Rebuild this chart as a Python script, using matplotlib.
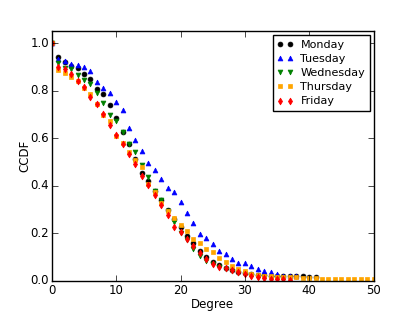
import numpy as np
import matplotlib
matplotlib.use("Agg")
import matplotlib.pyplot as plt

plt.style.use("classic")
plt.rcParams["font.size"] = 8.5

monday = [1.0, 0.940, 0.920, 0.905, 0.895, 0.870, 0.849, 0.808, 0.784, 0.740,
          0.686, 0.625, 0.574, 0.512, 0.454, 0.418, 0.379, 0.338, 0.298, 0.262,
          0.225, 0.190, 0.158, 0.125, 0.100, 0.080, 0.068, 0.055, 0.045, 0.038,
          0.032, 0.028, 0.025, 0.023, 0.022, 0.021, 0.021, 0.021, 0.021, 0.020,
          0.015, 0.015]
tuesday = [1.0, 0.932, 0.926, 0.913, 0.906, 0.901, 0.881, 0.837, 0.813, 0.788,
           0.751, 0.717, 0.642, 0.592, 0.547, 0.496, 0.465, 0.430, 0.391, 0.373,
           0.331, 0.286, 0.244, 0.197, 0.180, 0.155, 0.125, 0.111, 0.092, 0.073,
           0.073, 0.064, 0.050, 0.043, 0.038, 0.028, 0.020, 0.020, 0.019]
wednesday = [1.0, 0.915, 0.895, 0.890, 0.866, 0.845, 0.826, 0.792, 0.748, 0.699,
             0.672, 0.626, 0.574, 0.542, 0.489, 0.435, 0.379, 0.342, 0.295, 0.249,
             0.200, 0.170, 0.135, 0.105, 0.085, 0.070, 0.058, 0.048, 0.040, 0.032,
             0.027, 0.022, 0.018, 0.015, 0.012, 0.010, 0.008]
thursday = [1.0, 0.888, 0.873, 0.858, 0.840, 0.812, 0.787, 0.745, 0.699, 0.672,
            0.609, 0.580, 0.540, 0.510, 0.477, 0.409, 0.374, 0.328, 0.292, 0.263,
            0.236, 0.208, 0.176, 0.160, 0.135, 0.120, 0.097, 0.077, 0.064, 0.048,
            0.040, 0.030, 0.025, 0.022, 0.020, 0.018, 0.016, 0.015, 0.014, 0.013,
            0.012, 0.011, 0.007, 0.007, 0.007, 0.007, 0.007, 0.007, 0.007, 0.007,
            0.007]
friday = [1.0, 0.898, 0.891, 0.870, 0.842, 0.814, 0.775, 0.745, 0.700, 0.654,
          0.612, 0.575, 0.535, 0.490, 0.440, 0.402, 0.360, 0.318, 0.277, 0.228,
          0.207, 0.175, 0.145, 0.115, 0.090, 0.072, 0.060, 0.052, 0.045, 0.035,
          0.028, 0.022, 0.018, 0.010, 0.008, 0.008, 0.006, 0.005]

series = [("Monday", monday, "o", "black"),
          ("Tuesday", tuesday, "^", "blue"),
          ("Wednesday", wednesday, "v", "green"),
          ("Thursday", thursday, "s", "orange"),
          ("Friday", friday, "d", "red")]

fig = plt.figure(figsize=(4.15, 3.12), dpi=100, facecolor="white")
ax = fig.add_axes([0.125, 0.1, 0.775, 0.8])

for name, vals, mk, col in series:
    deg = np.arange(len(vals))
    ax.plot(deg, vals, linestyle="none", marker=mk, color=col,
            markersize=3.5, markeredgecolor=col, markeredgewidth=0.5, label=name)

ax.set_xlim(0, 50)
ax.set_ylim(0, 1.05)
ax.set_xticks(range(0, 51, 10))
ax.set_yticks(np.arange(0, 1.01, 0.2))
ax.tick_params(pad=2)
ax.set_xlabel("Degree", labelpad=1)
ax.set_ylabel("CCDF", labelpad=-1)
ax.legend(loc="upper right", numpoints=2, fontsize=8, labelspacing=0.38,
          handlelength=1.5, handletextpad=0.6, borderpad=0.4,
          borderaxespad=0.35)

fig.savefig("out.png", dpi=100, facecolor="white")
